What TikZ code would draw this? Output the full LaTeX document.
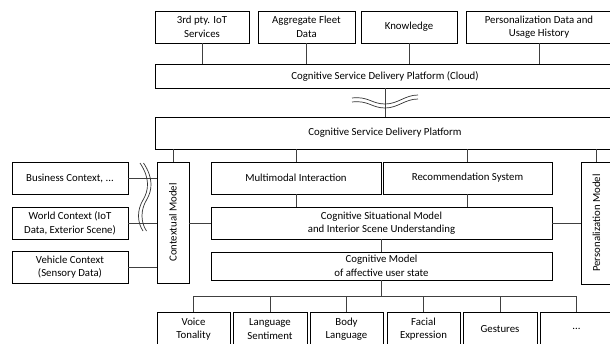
\documentclass[tikz,border=0pt]{standalone}
\usepackage{fontspec}
\setmainfont{Carlito}
\begin{document}
\begin{tikzpicture}[x=1pt,y=-1pt,
  box/.style={draw=black, line width=0.8pt, inner sep=1pt, align=center, font=\fontsize{10.8}{13.6}\selectfont, fill=white},
  conn/.style={draw=black!75, line width=0.8pt},
  wave/.style={draw=black!80, line width=0.7pt}]
\useasboundingbox (0,0) rectangle (610,343);
% top boxes
\node[box, minimum width=94pt, minimum height=32pt] (iot) at (202,27) {3rd pty. IoT\\Services};
\node[box, minimum width=97pt, minimum height=32pt] (fleet) at (306.5,27) {Aggregate Fleet\\Data};
\node[box, minimum width=96pt, minimum height=32pt] (know) at (409,27) {Knowledge};
\node[box, minimum width=146pt, minimum height=32pt] (pers) at (539,27) {Personalization Data and\\Usage History};
\node[box, minimum width=460pt, minimum height=24pt] (cloud) at (385,76) {Cognitive Service Delivery Platform (Cloud)};
\node[box, minimum width=460pt, minimum height=32pt] (plat) at (385,133) {Cognitive Service Delivery Platform};
% middle
\node[box, minimum width=32pt, minimum height=121pt] (ctx) at (173,222.5) {};
\node[font=\fontsize{10.8}{13.6}\selectfont, rotate=90] (ctxt) at (ctx.center) {Contextual Model};
\node[box, minimum width=170pt, minimum height=32pt] (mm) at (296,178) {Multimodal Interaction};
\node[box, minimum width=169pt, minimum height=32pt] (rec) at (467.5,178) {Recommendation System};
\node[box, minimum width=341pt, minimum height=32pt] (sit) at (381.5,223) {Cognitive Situational Model\\and Interior Scene Understanding};
\node[box, minimum width=31pt, minimum height=122pt] (pm) at (596.5,223) {};
\node[font=\fontsize{10.8}{13.6}\selectfont, rotate=90] (pmt) at (pm.center) {Personalization Model};
\node[box, minimum width=341pt, minimum height=28pt] (aff) at (381.5,266) {Cognitive Model\\of affective user state};
% left
\node[box, minimum width=116pt, minimum height=32pt] (bus) at (70,178) {Business Context, ...};
\node[box, minimum width=116pt, minimum height=32pt] (world) at (70,223) {World Context (IoT\\Data, Exterior Scene)};
\node[box, minimum width=116pt, minimum height=32pt] (veh) at (70,267) {Vehicle Context\\(Sensory Data)};
% bottom
\node[box, minimum width=73pt, minimum height=34pt] (voice) at (193.5,329) {Voice\\Tonality};
\node[box, minimum width=74pt, minimum height=34pt] (lang) at (270,329) {Language\\Sentiment};
\node[box, minimum width=73pt, minimum height=34pt] (body) at (346.5,329) {Body\\Language};
\node[box, minimum width=73pt, minimum height=34pt] (face) at (423.5,329) {Facial\\Expression};
\node[box, minimum width=74pt, minimum height=34pt] (gest) at (500,329) {Gestures};
\node[box, minimum width=73pt, minimum height=34pt] (dots) at (576.5,329) {...};
% connectors
\foreach \n in {iot,fleet,know,pers} \draw[conn] (\n.south) -- (\n.south |- cloud.north);
\draw[conn] (cloud.south) -- (cloud.south |- plat.north);
\draw[conn] (ctx.north) -- (ctx.north |- plat.south);
\draw[conn] (mm.north) -- (mm.north |- plat.south);
\draw[conn] (rec.north) -- (rec.north |- plat.south);
\draw[conn] (pm.north) -- (pm.north |- plat.south);
\draw[conn] (mm.south) -- (mm.south |- sit.north);
\draw[conn] (rec.south) -- (rec.south |- sit.north);
\draw[conn] (sit.south) -- (aff.north);
\draw[conn] (ctx.east |- sit.west) -- (sit.west);
\draw[conn] (sit.east) -- (pm.west |- sit.east);
\draw[conn] (bus.east) -- (ctx.west |- bus.east);
\draw[conn] (world.east) -- (ctx.west |- world.east);
\draw[conn] (veh.east) -- (ctx.west |- veh.east);
\coordinate (busl) at (0,296);
\draw[conn] (aff.south) -- (aff.south |- busl);
\draw[conn] (voice.north |- busl) -- (dots.north |- busl);
\foreach \n in {voice,lang,body,face,gest,dots} \draw[conn] (\n.north) -- (\n.north |- busl);
% wavy break marks
\draw[wave] (352,98) .. controls (368,96) and (372,104) .. (385,104) .. controls (398,104) and (405,95) .. (418,95);
\draw[wave] (352,102) .. controls (368,100) and (372,108) .. (385,108) .. controls (398,108) and (405,99) .. (418,99);
\draw[wave] (140,163) .. controls (150,178) and (149,190) .. (143,200) .. controls (137,210) and (137,222) .. (143,231);
\draw[wave] (143.5,163) .. controls (153.5,178) and (152.5,190) .. (146.5,200) .. controls (140.5,210) and (140.5,222) .. (146.5,231);
\end{tikzpicture}
\end{document}
